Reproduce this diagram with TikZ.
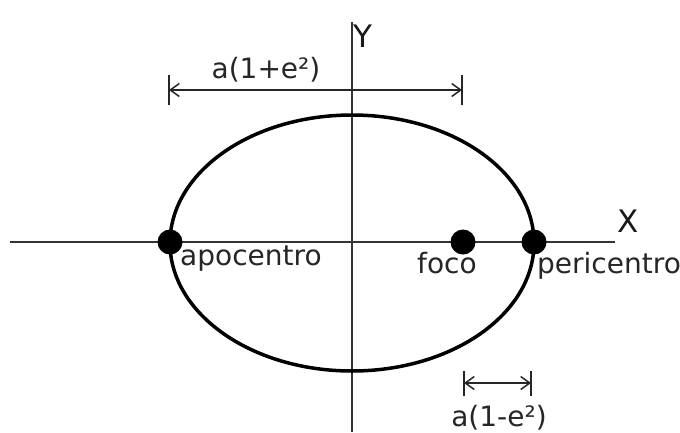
\documentclass[tikz,border=0pt]{standalone}
\usepackage{fontspec}
\setmainfont{DejaVu Sans}
\usetikzlibrary{arrows.meta}
\tikzset{
  lbl/.style={inner sep=0pt, text=black!85, font=\fontsize{28}{31}\selectfont},
  axislbl/.style={inner sep=0pt, text=black!90, font=\fontsize{31}{34}\selectfont},
  axisline/.style={line width=2.2pt, draw=black!80},
  orbit/.style={line width=3.5pt, draw=black},
  dot/.style={circle, fill=black, minimum size=25pt, inner sep=0pt},
  dimline/.style={line width=1.5pt, draw=black!85, {Straight Barb[length=9pt,width=13pt]}-{Straight Barb[length=9pt,width=13pt]}},
  tick/.style={line width=1.5pt, draw=black!85}
}
\begin{document}
\begin{tikzpicture}[x=1pt,y=-1pt]
\useasboundingbox[fill=white] (0,0) rectangle (680,432);
% axes
\coordinate (xl) at (10,242);
\coordinate (xr) at (615,242);
\coordinate (yt) at (352,22);
\coordinate (yb) at (352,432);
\draw[axisline] (xl) -- (xr);
\draw[axisline] (yt) -- (yb);
% orbit
\coordinate (c) at (352,243);
\draw[orbit] (c) ellipse [x radius=182pt, y radius=128pt];
% points
\node[dot] (apo) at (170,242) {};
\node[dot] (foc) at (463,242) {};
\node[dot] (per) at (534,242) {};
% labels
\node[axislbl] (Y) at (363,36) {Y};
\node[axislbl] (X) at (628,221) {X};
\node[lbl, anchor=base west] (apol) at (180,265) {apocentro};
\node[lbl, anchor=base] (focl) at (447,273) {foco};
\node[lbl, anchor=base west] (perl) at (537,273) {pericentro};
% top dimension
\coordinate (d1a) at (169,90);
\coordinate (d1b) at (462,90);
\draw[tick] (d1a) ++(0,-15) -- ++(0,30);
\draw[tick] (d1b) ++(0,-15) -- ++(0,30);
\draw[dimline] (d1a) -- (d1b);
\node[lbl, anchor=base] (dimt) at (266,78) {a(1+e²)};
% bottom dimension
\coordinate (d2a) at (464,383);
\coordinate (d2b) at (531,383);
\draw[tick] (d2a) ++(0,-12) -- ++(0,25);
\draw[tick] (d2b) ++(0,-12) -- ++(0,25);
\draw[dimline] (d2a) -- (d2b);
\node[lbl, anchor=base] (dimb) at (499,426) {a(1-e²)};
\end{tikzpicture}
\end{document}
